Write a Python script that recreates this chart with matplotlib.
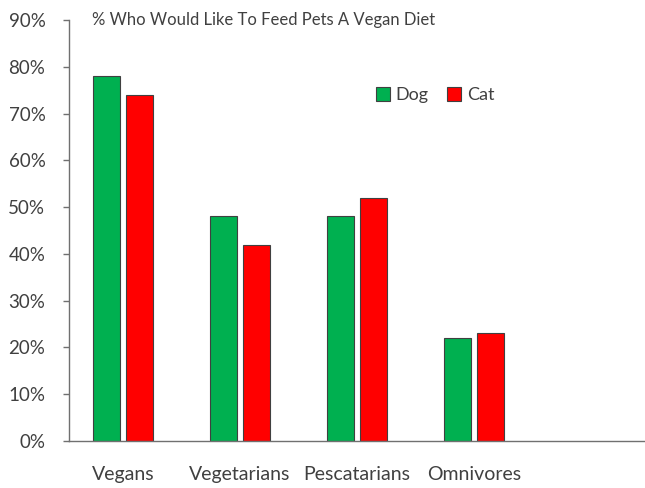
import matplotlib.pyplot as plt
import numpy as np

categories = ["Vegans", "Vegetarians", "Pescatarians", "Omnivores"]
dog = [78, 48, 48, 22]
cat = [74, 42, 52, 23]
yticks = [0, 10, 20, 30, 40, 50, 60, 70, 80, 90]
title = "% Who Would Like To Feed Pets A Vegan Diet"

plt.rcParams["font.family"] = ["Lato", "DejaVu Sans"]
text_color = "#404040"

fig = plt.figure(figsize=(6.45, 4.88), dpi=100)
ax = fig.add_axes([69 / 645, 1 - 441 / 488, 1 - 69 / 645, (441 - 20) / 488])

x = np.arange(len(categories))
w = 0.23
off = 0.141
ax.bar(x - off, dog, width=w, color="#00B050", edgecolor="#404040", linewidth=0.8, label="Dog")
ax.bar(x + off, cat, width=w, color="#FF0000", edgecolor="#404040", linewidth=0.8, label="Cat")

ax.set_xlim(-0.46, 4.46)
ax.set_ylim(0, 90)
ax.set_yticks(yticks)
ax.set_yticklabels([f"{t}%" for t in yticks], fontsize=13.5, color=text_color)
ax.set_xticks(x)
ax.set_xticklabels(categories, fontsize=14, color=text_color)
ax.tick_params(axis="x", length=0, pad=18)
ax.tick_params(axis="y", length=4, width=1, color="#707070", pad=13)

for s in ["top", "right"]:
    ax.spines[s].set_visible(False)
for s in ["left", "bottom"]:
    ax.spines[s].set_color("#707070")
    ax.spines[s].set_linewidth(1)

ax.text(-0.26, 90, title, fontsize=12, color=text_color, va="center", ha="left")

ax.legend(loc="center", bbox_to_anchor=(435 / 645, 1 - 95 / 488), bbox_transform=fig.transFigure,
          ncol=2, frameon=False, fontsize=13, handlelength=0.8, handleheight=0.8,
          handletextpad=0.3, columnspacing=1.0, labelcolor=text_color)

fig.savefig("out.png", dpi=100)
